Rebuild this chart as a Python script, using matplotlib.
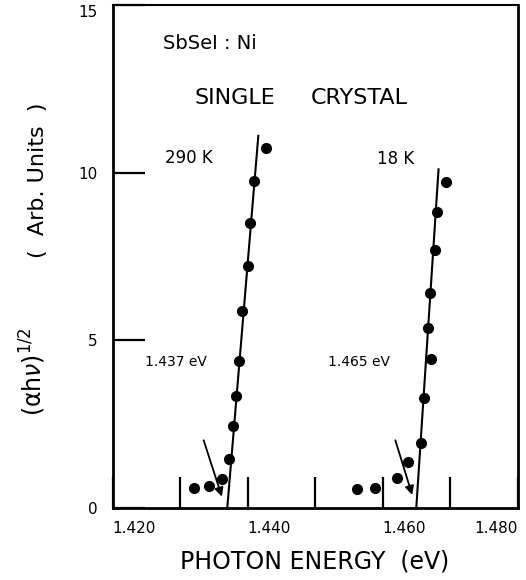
import matplotlib.pyplot as plt
from matplotlib.ticker import FixedLocator

# SbSeI:Ni single crystal, (alpha h nu)^1/2 versus photon energy
energy_290k = [1.4321, 1.4343, 1.4362, 1.4372, 1.4379, 1.4383, 1.4387,
               1.4392, 1.4400, 1.4403, 1.4410, 1.4427]
value_290k = [0.60, 0.66, 0.88, 1.45, 2.44, 3.35, 4.38,
              5.89, 7.23, 8.49, 9.76, 10.74]
energy_18k = [1.4562, 1.4589, 1.4622, 1.4638, 1.4657, 1.4662, 1.4672,
              1.4667, 1.4670, 1.4677, 1.4681, 1.4694]
value_18k = [0.57, 0.60, 0.91, 1.37, 1.94, 3.28, 4.43,
             5.38, 6.41, 7.70, 8.82, 9.73]

# linear fits: extrapolated edge (value 0) and upper end of the line
edge_energy = [1.437, 1.465]
fit_top_energy = [1.4416, 1.4683]
fit_top_value = [11.1, 10.1]
temp_labels = ["290 K", "18 K"]

# arrows pointing at the edge
arrow_tail = [(1.4335, 2.02), (1.4619, 2.02)]
arrow_head = [(1.4362, 0.34), (1.4644, 0.39)]

x_major = [1.420, 1.440, 1.460, 1.480]
x_minor = [1.430, 1.450, 1.470]
x_ticklabels = ["1.420", "1.440", "1.460", "1.480"]
y_major = [0, 5, 10, 15]
y_ticklabels = ["0", "5", "10", "15"]

fig = plt.figure(figsize=(5.26, 5.80), dpi=100)
ax = fig.add_axes([0.2139, 0.1241, 0.770, 0.8672])

ax.plot(energy_290k, value_290k, "o", color="black", ms=7, zorder=3)
ax.plot(energy_18k, value_18k, "o", color="black", ms=7, zorder=3)
for e0, e1, v1 in zip(edge_energy, fit_top_energy, fit_top_value):
    ax.plot([e0, e1], [0, v1], color="black", lw=1.5, clip_on=False)

for tail, head in zip(arrow_tail, arrow_head):
    ax.annotate("", xy=head, xytext=tail,
                arrowprops=dict(arrowstyle="-|>", color="black", lw=1.3,
                                mutation_scale=13, shrinkA=0, shrinkB=0))

ax.set_xlim(1.420, 1.480)
ax.set_ylim(0, 15)

ax.xaxis.set_major_locator(FixedLocator(x_major))
ax.xaxis.set_minor_locator(FixedLocator(x_minor))
ax.set_xticklabels(x_ticklabels)
ax.set_yticks(y_major)
ax.set_yticklabels(y_ticklabels)

ax.tick_params(axis="x", which="both", direction="in", length=22, width=1.6,
               pad=9, labelsize=11, top=False)
ax.tick_params(axis="y", which="both", direction="in", length=23, width=1.6,
               pad=11, labelsize=11, right=False)
xlabels = ax.get_xticklabels()
for lab in xlabels[:-1]:
    lab.set_horizontalalignment("left")
xlabels[-1].set_horizontalalignment("right")
ax.get_yticklabels()[-1].set_verticalalignment("top")

for side in ["left", "bottom", "right", "top"]:
    ax.spines[side].set_linewidth(2.0)
ax.spines["top"].set_linewidth(1.5)

ax.set_xlabel("PHOTON ENERGY  (eV)", fontsize=17, labelpad=10)

fig.text(0.072, 0.69, "(  Arb. Units  )", rotation=90, fontsize=16,
         ha="center", va="center")
fig.text(0.062, 0.359, r"$(\mathrm{\alpha h}\nu)^{1/2}$", rotation=90,
         fontsize=17, ha="center", va="center")

ax.text(1.4275, 13.84, "SbSeI : Ni", fontsize=14, ha="left", va="center")
ax.text(1.4322, 12.23, "SINGLE", fontsize=16, ha="left", va="center")
ax.text(1.4493, 12.23, "CRYSTAL", fontsize=16, ha="left", va="center")
ax.text(1.4278, 10.45, temp_labels[0], fontsize=12, ha="left", va="center")
ax.text(1.4592, 10.42, temp_labels[1], fontsize=12, ha="left", va="center")
ax.text(1.4248, 4.35, f"{edge_energy[0]:.3f} eV", fontsize=10,
        ha="left", va="center")
ax.text(1.4519, 4.35, f"{edge_energy[1]:.3f} eV", fontsize=10,
        ha="left", va="center")

fig.savefig("out.png", dpi=100)
